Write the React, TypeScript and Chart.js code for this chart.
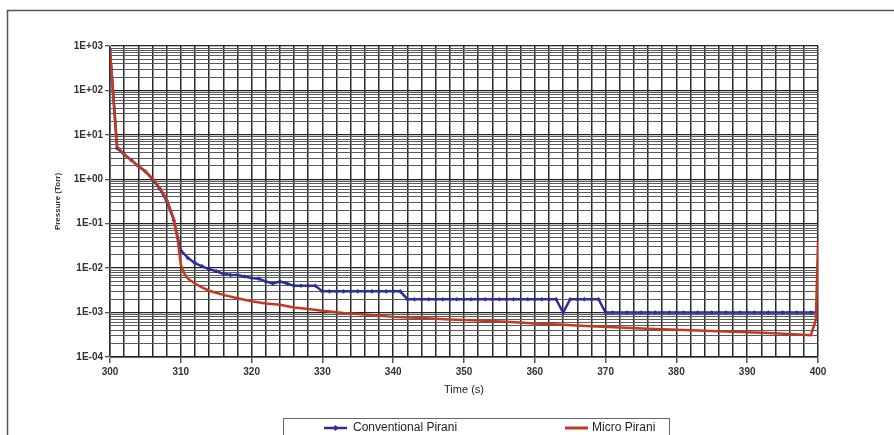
import React, { useEffect, useRef } from 'react';
import { Chart, registerables } from 'chart.js';

Chart.register(...registerables);

// ---- data ----
const seriesNames = ['Conventional Pirani', 'Micro Pirani'];

const conventionalTimes = [
  300, 301, 302, 303, 304, 305, 306, 307, 308, 309,
  310, 311, 312, 313, 314, 315, 316, 317, 318, 319,
  320, 321, 322, 323, 324, 325, 326, 327, 328, 329,
  330, 331, 332, 333, 334, 335, 336, 337, 338, 339,
  340, 341, 342, 343, 344, 345, 346, 347, 348, 349,
  350, 351, 352, 353, 354, 355, 356, 357, 358, 359,
  360, 361, 362, 363, 364, 365, 366, 367, 368, 369,
  370, 371, 372, 373, 374, 375, 376, 377, 378, 379,
  380, 381, 382, 383, 384, 385, 386, 387, 388, 389,
  390, 391, 392, 393, 394, 395, 396, 397, 398, 399,
  400,
];
const conventionalValues = [
  800, 5, 3.6, 2.7, 2.0, 1.5, 1.0, 0.62, 0.33, 0.12,
  0.025, 0.017, 0.013, 0.011, 0.0095, 0.0085, 0.0075, 0.007, 0.007, 0.0065,
  0.006, 0.0058, 0.005, 0.0045, 0.005, 0.0045, 0.004, 0.004, 0.004, 0.004,
  0.003, 0.003, 0.003, 0.003, 0.003, 0.003, 0.003, 0.003, 0.003, 0.003,
  0.003, 0.003, 0.002, 0.002, 0.002, 0.002, 0.002, 0.002, 0.002, 0.002,
  0.002, 0.002, 0.002, 0.002, 0.002, 0.002, 0.002, 0.002, 0.002, 0.002,
  0.002, 0.002, 0.002, 0.002, 0.001, 0.002, 0.002, 0.002, 0.002, 0.002,
  0.001, 0.001, 0.001, 0.001, 0.001, 0.001, 0.001, 0.001, 0.001, 0.001,
  0.001, 0.001, 0.001, 0.001, 0.001, 0.001, 0.001, 0.001, 0.001, 0.001,
  0.001, 0.001, 0.001, 0.001, 0.001, 0.001, 0.001, 0.001, 0.001, 0.001,
  0.001,
];

const microTimes = [
  300, 301, 302, 303, 304, 305, 306, 307, 308, 309,
  309.6, 310, 310.5, 311, 312, 313, 314, 315, 316, 318,
  320, 322, 324, 326, 328, 330, 333, 336, 340, 344,
  348, 352, 356, 360, 364, 368, 372, 376, 380, 384,
  388, 392, 396, 399, 399.7, 400,
];
const microValues = [
  800, 5.5, 3.6, 2.7, 2.0, 1.5, 1.05, 0.65, 0.36, 0.13,
  0.04, 0.012, 0.0075, 0.0058, 0.0045, 0.0037, 0.0031, 0.0028, 0.0025, 0.0021,
  0.0018, 0.0016, 0.0015, 0.0013, 0.0012, 0.0011, 0.00098, 0.0009, 0.0008, 0.00075,
  0.0007, 0.00066, 0.00062, 0.00057, 0.00053, 0.00049, 0.00046, 0.00043, 0.00041, 0.00039,
  0.00037, 0.00035, 0.00033, 0.00031, 0.0007, 0.04,
];

const yTickLabels = ['1E-04', '1E-03', '1E-02', '1E-01', '1E+00', '1E+01', '1E+02', '1E+03'];
const xTickLabels = ['300', '310', '320', '330', '340', '350', '360', '370', '380', '390', '400'];

const BLUE = '#2f2f9c';
const RED = '#c23a22';

const isDecade = (v: number) => {
  const l = Math.log10(v);
  return Math.abs(l - Math.round(l)) < 1e-6;
};

const framePlugin = {
  id: 'frameLegend',
  afterDraw(chart: any) {
    const ctx = chart.ctx;
    ctx.save();
    // outer frame (top + left)
    ctx.strokeStyle = '#555';
    ctx.lineWidth = 1.5;
    ctx.beginPath();
    ctx.moveTo(7.5, 440);
    ctx.lineTo(7.5, 10.5);
    ctx.lineTo(900, 10.5);
    ctx.stroke();

    // legend box
    ctx.strokeStyle = '#666';
    ctx.lineWidth = 1;
    ctx.strokeRect(283.5, 418.5, 386, 40);

    const ly = 428;
    // conventional
    ctx.strokeStyle = BLUE;
    ctx.lineWidth = 2.5;
    ctx.beginPath();
    ctx.moveTo(324, ly);
    ctx.lineTo(347, ly);
    ctx.stroke();
    ctx.fillStyle = BLUE;
    ctx.beginPath();
    ctx.moveTo(335.5, ly - 3);
    ctx.lineTo(338.5, ly);
    ctx.lineTo(335.5, ly + 3);
    ctx.lineTo(332.5, ly);
    ctx.closePath();
    ctx.fill();
    // micro
    ctx.strokeStyle = RED;
    ctx.lineWidth = 3;
    ctx.beginPath();
    ctx.moveTo(565, ly);
    ctx.lineTo(588, ly);
    ctx.stroke();

    ctx.fillStyle = '#222';
    ctx.font = '12px "Liberation Sans", Arial, sans-serif';
    ctx.textBaseline = 'middle';
    ctx.textAlign = 'left';
    ctx.fillText(seriesNames[0], 353, ly);
    ctx.fillText(seriesNames[1], 592, ly);
    ctx.restore();
  },
};

export default function App() {
  const ref = useRef<HTMLCanvasElement | null>(null);

  useEffect(() => {
    if (!ref.current) return;
    const blueData = conventionalTimes.map((t, i) => ({ x: t, y: conventionalValues[i] }));
    const redData = microTimes.map((t, i) => ({ x: t, y: microValues[i] }));

    const chart = new Chart(ref.current, {
      type: 'line',
      data: {
        datasets: [
          {
            label: seriesNames[0],
            data: blueData,
            borderColor: BLUE,
            backgroundColor: BLUE,
            borderWidth: 2.5,
            pointRadius: 2.3,
            pointStyle: 'rectRot',
            pointBorderWidth: 0,
            pointBackgroundColor: BLUE,
            tension: 0,
            order: 1,
          },
          {
            label: seriesNames[1],
            data: redData,
            borderColor: RED,
            backgroundColor: RED,
            borderWidth: 2.5,
            pointRadius: 0,
            tension: 0,
            order: 0,
          },
        ],
      },
      options: {
        responsive: false,
        animation: false,
        devicePixelRatio: 1,
        layout: { padding: { left: 10, right: 76, top: 46, bottom: 38 } },
        plugins: {
          legend: { display: false },
          tooltip: { enabled: false },
        },
        scales: {
          x: {
            type: 'linear',
            min: 300,
            max: 400,
            afterBuildTicks: (scale: any) => {
              const t = [];
              for (let v = 300; v <= 400; v += 2) t.push({ value: v });
              scale.ticks = t;
            },
            afterFit: (scale: any) => {
              scale.height = 40;
            },
            grid: {
              color: '#2a2a2a',
              lineWidth: 1.5,
              tickLength: 6,
              tickColor: (c: any) => (c.tick && c.tick.value % 10 === 0 ? '#555' : 'rgba(0,0,0,0)'),
            },
            border: { display: true, color: '#666', width: 1 },
            ticks: {
              autoSkip: false,
              maxRotation: 0,
              padding: 3,
              color: '#333',
              font: { family: '"Liberation Sans", Arial, sans-serif', size: 10, weight: 'bold' },
              callback: (v: any) => (Number(v) % 10 === 0 ? xTickLabels[(Number(v) - 300) / 10] : ''),
            },
            title: {
              display: true,
              text: 'Time (s)',
              color: '#222',
              padding: { top: 0, bottom: 0 },
              font: { family: '"Liberation Sans", Arial, sans-serif', size: 11 },
            },
          },
          y: {
            type: 'logarithmic',
            min: 0.0001,
            max: 1000,
            afterBuildTicks: (scale: any) => {
              const t = [];
              for (let e = -4; e <= 2; e++) {
                for (let m = 1; m <= 9; m++) {
                  t.push({ value: Number((m * Math.pow(10, e)).toPrecision(3)) });
                }
              }
              t.push({ value: 1000 });
              scale.ticks = t;
            },
            afterFit: (scale: any) => {
              scale.width = 100;
            },
            grid: {
              color: (c: any) => (c.tick && isDecade(c.tick.value) ? '#222' : '#5a5a5a'),
              lineWidth: (c: any) => (c.tick && isDecade(c.tick.value) ? 1.3 : 1),
              tickLength: 5,
              tickColor: (c: any) => (c.tick && isDecade(c.tick.value) ? '#555' : 'rgba(0,0,0,0)'),
            },
            border: { display: true, color: '#666', width: 1 },
            ticks: {
              autoSkip: false,
              padding: 2,
              color: '#333',
              font: { family: '"Liberation Sans", Arial, sans-serif', size: 10, weight: 'bold' },
              callback: (v: any) => {
                const n = Number(v);
                if (!isDecade(n)) return '';
                return yTickLabels[Math.round(Math.log10(n)) + 4];
              },
            },
            title: {
              display: true,
              text: 'Pressure (Torr)',
              color: '#333',
              padding: { top: 43, bottom: 0 },
              font: { family: '"Liberation Sans", Arial, sans-serif', size: 8, weight: 'bold' },
            },
          },
        },
      },
      plugins: [framePlugin],
    } as any);

    return () => chart.destroy();
  }, []);

  return (
    <div style={{ position: 'fixed', left: 0, top: 0, width: 894, height: 435, background: '#fff' }}>
      <canvas ref={ref} width={894} height={435} style={{ display: 'block', width: 894, height: 435 }} />
    </div>
  );
}
